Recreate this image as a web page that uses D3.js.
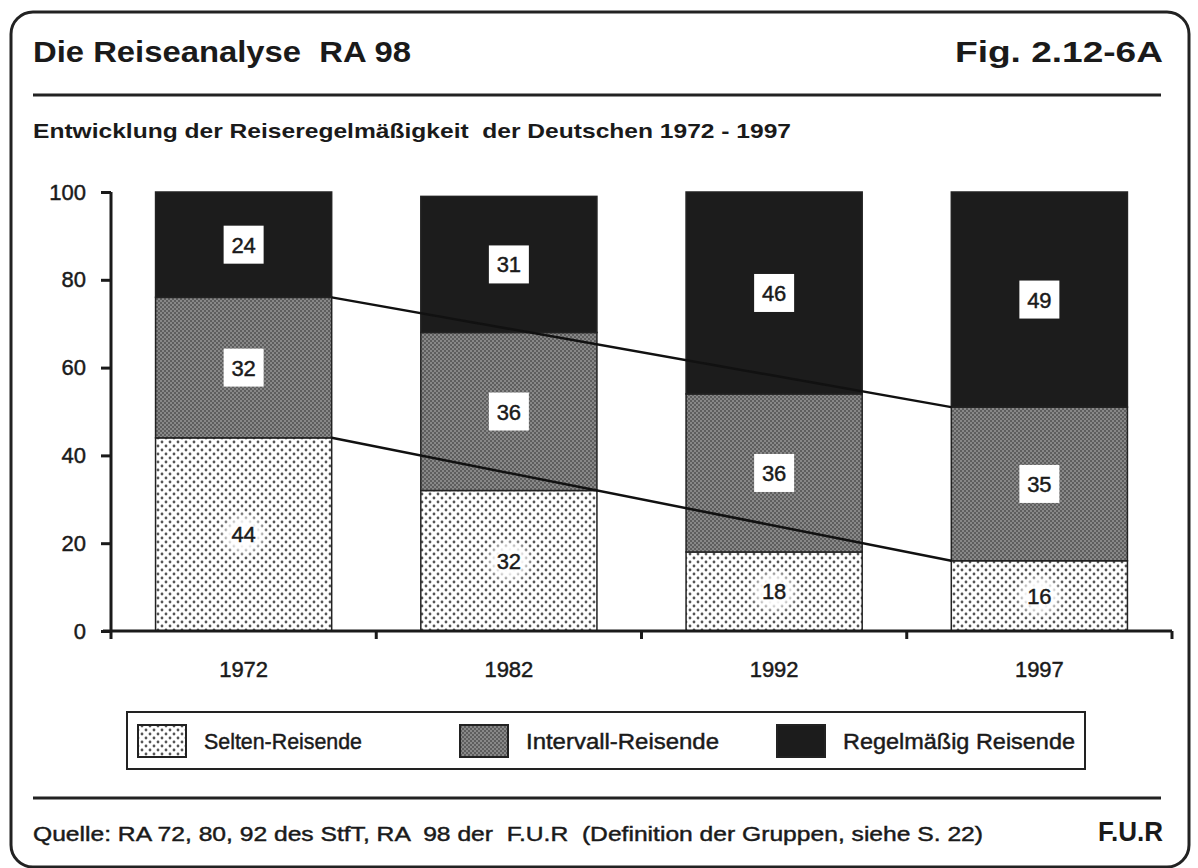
<!DOCTYPE html>
<html>
<head>
<meta charset="utf-8">
<script src="https://cdn.jsdelivr.net/npm/d3@7"></script>
<style>
  body { margin: 0; background: #fff; }
  svg text { font-family: "Liberation Sans", Arial, sans-serif; fill: #1a1a1a; white-space: pre; }
  svg text.heavy { stroke: #1a1a1a; stroke-width: 0.45; }
</style>
</head>
<body>
<div id="chart"></div>
<script>
// data
const years = ['1972', '1982', '1992', '1997'];
const selten = [44, 32, 18, 16];
const intervall = [32, 36, 36, 35];
const regelmaessig = [24, 31, 46, 49];
const seriesKeys = ['selten', 'intervall', 'regel'];
const seriesNames = ['Selten-Reisende', 'Intervall-Reisende', 'Regelmäßig Reisende'];
const yTicks = [0, 20, 40, 60, 80, 100];

const rows = years.map((y, i) => ({ year: y, selten: selten[i], intervall: intervall[i], regel: regelmaessig[i] }));

const W = 1198, H = 868;
const svg = d3.select('#chart').append('svg')
    .attr('width', W)
    .attr('height', H);

// patterns
const defs = svg.append('defs');
const pSel = defs.append('pattern').attr('id', 'p-selten')
    .attr('patternUnits', 'userSpaceOnUse').attr('width', 8).attr('height', 8);
pSel.append('rect').attr('width', 8).attr('height', 8).attr('fill', '#fff');
pSel.append('circle').attr('cx', 2).attr('cy', 2).attr('r', 1.4).attr('fill', '#555');
pSel.append('circle').attr('cx', 6).attr('cy', 6).attr('r', 1.4).attr('fill', '#555');

const pInt = defs.append('pattern').attr('id', 'p-intervall')
    .attr('patternUnits', 'userSpaceOnUse').attr('width', 4).attr('height', 4);
pInt.append('rect').attr('width', 4).attr('height', 4).attr('fill', '#5e5e5e');
pInt.append('circle').attr('cx', 1).attr('cy', 1).attr('r', 0.8).attr('fill', '#bdbdbd');
pInt.append('circle').attr('cx', 3).attr('cy', 3).attr('r', 0.8).attr('fill', '#bdbdbd');

defs.append('filter').attr('id', 'halo')
    .append('feGaussianBlur').attr('stdDeviation', 4);

const fills = { selten: 'url(#p-selten)', intervall: 'url(#p-intervall)', regel: '#1c1c1c' };

// frame
svg.append('rect')
    .attr('x', 11).attr('y', 12).attr('width', 1178).attr('height', 855)
    .attr('rx', 22)
    .attr('fill', 'none').attr('stroke', '#222').attr('stroke-width', 3);

// header
svg.append('text').attr('x', 33).attr('y', 62)
    .attr('font-size', 30).attr('font-weight', 'bold')
    .attr('textLength', 378).attr('lengthAdjust', 'spacingAndGlyphs')
    .text('Die Reiseanalyse  RA 98');
svg.append('text').attr('x', 955).attr('y', 62)
    .attr('font-size', 30).attr('font-weight', 'bold')
    .attr('textLength', 208).attr('lengthAdjust', 'spacingAndGlyphs')
    .text('Fig. 2.12-6A');
svg.append('line').attr('x1', 33).attr('x2', 1161).attr('y1', 95).attr('y2', 95)
    .attr('stroke', '#222').attr('stroke-width', 3);
svg.append('text').attr('x', 33).attr('y', 138)
    .attr('font-size', 21).attr('font-weight', 'bold')
    .attr('textLength', 758).attr('lengthAdjust', 'spacingAndGlyphs')
    .text('Entwicklung der Reiseregelmäßigkeit  der Deutschen 1972 - 1997');

// scales
const x = d3.scaleBand().domain(years).range([111, 1172])
    .paddingInner(0.336).paddingOuter(0.168);
const y = d3.scaleLinear().domain([0, 100]).range([631, 192]);
const step = x.step();
const gap = step * x.paddingInner();

const stack = d3.stack().keys(seriesKeys);
const stacked = stack(rows);

const g = svg.append('g');

// bars
stacked.forEach(layer => {
    g.append('g').selectAll('rect')
        .data(layer)
        .join('rect')
        .attr('x', d => x(d.data.year))
        .attr('y', d => y(d[1]))
        .attr('width', x.bandwidth())
        .attr('height', d => y(d[0]) - y(d[1]))
        .attr('fill', fills[layer.key])
        .attr('stroke', '#222')
        .attr('stroke-width', 1.5);
});

// connecting lines between first and last year
const first = rows[0], last = rows[rows.length - 1];
[first.selten, first.selten + first.intervall].forEach((v0, i) => {
    const v1 = i === 0 ? last.selten : last.selten + last.intervall;
    g.append('line')
        .attr('x1', x(first.year) + x.bandwidth()).attr('y1', y(v0))
        .attr('x2', x(last.year)).attr('y2', y(v1))
        .attr('stroke', '#111').attr('stroke-width', 2.5);
});

// value labels
stacked.forEach(layer => {
    const lg = g.append('g');
    layer.forEach(d => {
        const cx = x(d.data.year) + x.bandwidth() / 2;
        const cy = y((d[0] + d[1]) / 2);
        const val = d.data[layer.key];
        if (layer.key === 'selten') {
            lg.append('ellipse').attr('cx', cx).attr('cy', cy)
                .attr('rx', 20).attr('ry', 18).attr('fill', '#fff')
                .attr('filter', 'url(#halo)');
        } else {
            lg.append('rect').attr('x', cx - 20).attr('y', cy - 19)
                .attr('width', 40).attr('height', 38).attr('fill', '#fff');
        }
        lg.append('text').attr('x', cx).attr('y', cy + 8)
            .attr('class', 'heavy')
            .attr('text-anchor', 'middle').attr('font-size', 22)
            .text(val);
    });
});

// y axis
const yAxis = g.append('g').attr('transform', 'translate(111,0)')
    .call(d3.axisLeft(y).tickValues(yTicks).tickSize(10).tickPadding(15));
yAxis.attr('font-size', null).attr('font-family', null);
yAxis.select('.domain').attr('stroke', '#1a1a1a').attr('stroke-width', 3)
    .attr('d', `M0,${y(100)}V${y(0) + 8}`);
yAxis.selectAll('.tick line').attr('stroke', '#1a1a1a').attr('stroke-width', 3);
yAxis.selectAll('.tick text')
    .attr('class', 'heavy')
    .style('font-size', '22px').style('fill', '#1a1a1a');

// x axis
g.append('line').attr('x1', 103).attr('x2', 1172)
    .attr('y1', y(0)).attr('y2', y(0))
    .attr('stroke', '#1a1a1a').attr('stroke-width', 3);
const bounds = years.map(yr => x(yr) + x.bandwidth() + gap / 2);
g.selectAll('.xtick').data(bounds).join('line')
    .attr('class', 'xtick')
    .attr('x1', d => d).attr('x2', d => d)
    .attr('y1', y(0)).attr('y2', y(0) + 8)
    .attr('stroke', '#1a1a1a').attr('stroke-width', 3);
g.selectAll('.xlabel').data(years).join('text')
    .attr('class', 'xlabel heavy')
    .attr('x', d => x(d) + x.bandwidth() / 2)
    .attr('y', 677)
    .attr('text-anchor', 'middle').style('font-size', '22px')
    .text(d => d);

// legend
const legend = svg.append('g');
legend.append('rect').attr('x', 127).attr('y', 712).attr('width', 958).attr('height', 57)
    .attr('fill', '#fff').attr('stroke', '#222').attr('stroke-width', 2);
const legendX = [138, 460, 777];
const legendLen = [158, 193, 232];
seriesKeys.forEach((k, i) => {
    legend.append('rect').attr('x', legendX[i]).attr('y', 725)
        .attr('width', 48).attr('height', 32)
        .attr('fill', fills[k]).attr('stroke', '#222').attr('stroke-width', 2);
    legend.append('text').attr('x', legendX[i] + 66).attr('y', 749)
        .attr('class', 'heavy')
        .attr('font-size', 22)
        .attr('textLength', legendLen[i]).attr('lengthAdjust', 'spacingAndGlyphs')
        .text(seriesNames[i]);
});

// footer
svg.append('line').attr('x1', 33).attr('x2', 1161).attr('y1', 798).attr('y2', 798)
    .attr('stroke', '#222').attr('stroke-width', 3);
svg.append('text').attr('x', 33).attr('y', 841)
    .attr('class', 'heavy')
    .attr('font-size', 21)
    .attr('textLength', 950).attr('lengthAdjust', 'spacingAndGlyphs')
    .text('Quelle: RA 72, 80, 92 des StfT, RA  98 der  F.U.R  (Definition der Gruppen, siehe S. 22)');
svg.append('text').attr('x', 1098).attr('y', 841)
    .attr('font-size', 28).attr('font-weight', 'bold')
    .attr('textLength', 65).attr('lengthAdjust', 'spacingAndGlyphs')
    .text('F.U.R');
</script>
</body>
</html>
